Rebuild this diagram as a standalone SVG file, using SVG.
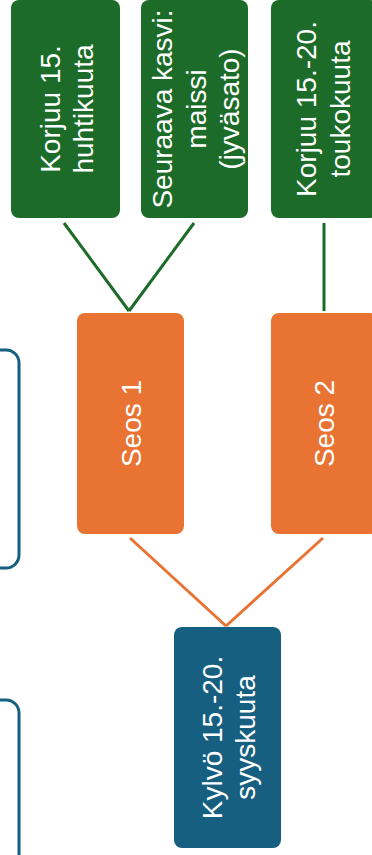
<svg xmlns="http://www.w3.org/2000/svg" width="372" height="855" viewBox="0 0 372 855">
  <style>
    .green { fill: #1c6b28; }
    .orange { fill: #e87333; }
    .blue { fill: #175f80; }
    .frame { fill: none; stroke: #175f80; stroke-width: 3; }
    .lbl { font-family: "Liberation Sans", Arial, sans-serif; font-size: 28px; fill: #ffffff; text-anchor: middle; }
    .wire-g { stroke: #1c6b28; stroke-width: 3; fill: none; }
    .wire-o { stroke: #e87333; stroke-width: 3; fill: none; }
  </style>

  <!-- outlined panels on the left edge -->
  <g id="panel-a">
    <rect class="frame" x="-100" y="350" width="119" height="218" rx="13"/>
  </g>
  <g id="panel-b">
    <rect class="frame" x="-100" y="700" width="119" height="218" rx="13"/>
  </g>

  <!-- connectors -->
  <g id="connectors">
    <line class="wire-g" x1="64" y1="223" x2="129" y2="311"/>
    <line class="wire-g" x1="194" y1="223" x2="129" y2="311"/>
    <line class="wire-g" x1="324" y1="223" x2="324" y2="311"/>
    <line class="wire-o" x1="130" y1="538" x2="226" y2="626"/>
    <line class="wire-o" x1="323" y1="538" x2="226" y2="626"/>
  </g>

  <!-- harvest / follow-up crop nodes -->
  <g id="harvest-april">
    <rect class="green" x="11" y="0" width="109" height="218" rx="8"/>
    <text class="lbl" transform="translate(65.5,109) rotate(-90)"><tspan x="0" y="-6">Korjuu 15.</tspan><tspan x="0" y="27.6">huhtikuuta</tspan></text>
  </g>
  <g id="next-crop">
    <rect class="green" x="141" y="0" width="107" height="218" rx="8"/>
    <text class="lbl" transform="translate(194.5,109) rotate(-90)"><tspan x="0" y="-22.6">Seuraava kasvi:</tspan><tspan x="0" y="11">maissi</tspan><tspan x="0" y="44.6">(jyväsato)</tspan></text>
  </g>
  <g id="harvest-may">
    <rect class="green" x="271" y="0" width="107" height="218" rx="8"/>
    <text class="lbl" transform="translate(322,109) rotate(-90)"><tspan x="0" y="-6">Korjuu 15.-20.</tspan><tspan x="0" y="27.6">toukokuuta</tspan></text>
  </g>

  <!-- mixtures -->
  <g id="mix-1">
    <rect class="orange" x="77" y="313" width="107" height="221" rx="8"/>
    <text class="lbl" transform="translate(130.5,423.5) rotate(-90)" y="10">Seos 1</text>
  </g>
  <g id="mix-2">
    <rect class="orange" x="271" y="313" width="107" height="221" rx="8"/>
    <text class="lbl" transform="translate(323.5,423.5) rotate(-90)" y="10">Seos 2</text>
  </g>

  <!-- sowing -->
  <g id="sowing">
    <rect class="blue" x="174" y="627" width="107" height="221" rx="8"/>
    <text class="lbl" transform="translate(227.5,737.5) rotate(-90)"><tspan x="0" y="-6">Kylvö 15.-20.</tspan><tspan x="0" y="27.6">syyskuuta</tspan></text>
  </g>
</svg>
